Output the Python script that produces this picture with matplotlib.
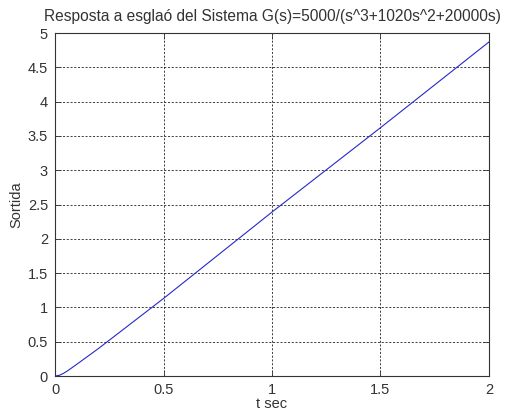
import matplotlib
matplotlib.use("Agg")
import matplotlib.pyplot as plt

# step response
t = [0, 0.02, 0.04, 0.06, 0.1, 0.2, 0.5, 1.0, 1.5, 2.0]
y = [0, 0.01, 0.04, 0.08, 0.17, 0.40, 1.13, 2.39, 3.62, 4.87]
xticks = [0, 0.5, 1, 1.5, 2]
yticks = [0, 0.5, 1, 1.5, 2, 2.5, 3, 3.5, 4, 4.5, 5]

plt.rcParams['font.family'] = ['Liberation Sans', 'DejaVu Sans']
plt.rcParams['font.size'] = 10.5

fig = plt.figure(figsize=(5.06, 4.17), dpi=100)
ax = fig.add_axes([0.1087, 0.0983, 0.8577, 0.8225])
ax.plot(t, y, color='#2828c8', lw=0.8)
ax.set_xlim(0, 2)
ax.set_ylim(0, 5)
ax.set_xticks(xticks)
ax.set_xticklabels(['0', '0.5', '1', '1.5', '2'])
ax.set_yticks(yticks)
ax.set_yticklabels(['0', '0.5', '1', '1.5', '2', '2.5', '3', '3.5', '4', '4.5', '5'])
ax.tick_params(direction='in', top=True, right=True, length=4, width=0.6, pad=5,
               colors='#333333', labelcolor='#333333')
ax.grid(True, color='#222222', linestyle=(0, (2.5, 2)), linewidth=0.6)
for s in ax.spines.values():
    s.set_linewidth(0.8)
    s.set_color('#333333')
ax.set_xlabel('t sec', labelpad=0, color='#333333')
ax.set_ylabel('Sortida', labelpad=3, color='#333333')
ax.set_title('Resposta a esglaó del Sistema G(s)=5000/(s^3+1020s^2+20000s)',
             fontsize=11.2, pad=9, color='#333333')

fig.savefig('out.png', dpi=100)
